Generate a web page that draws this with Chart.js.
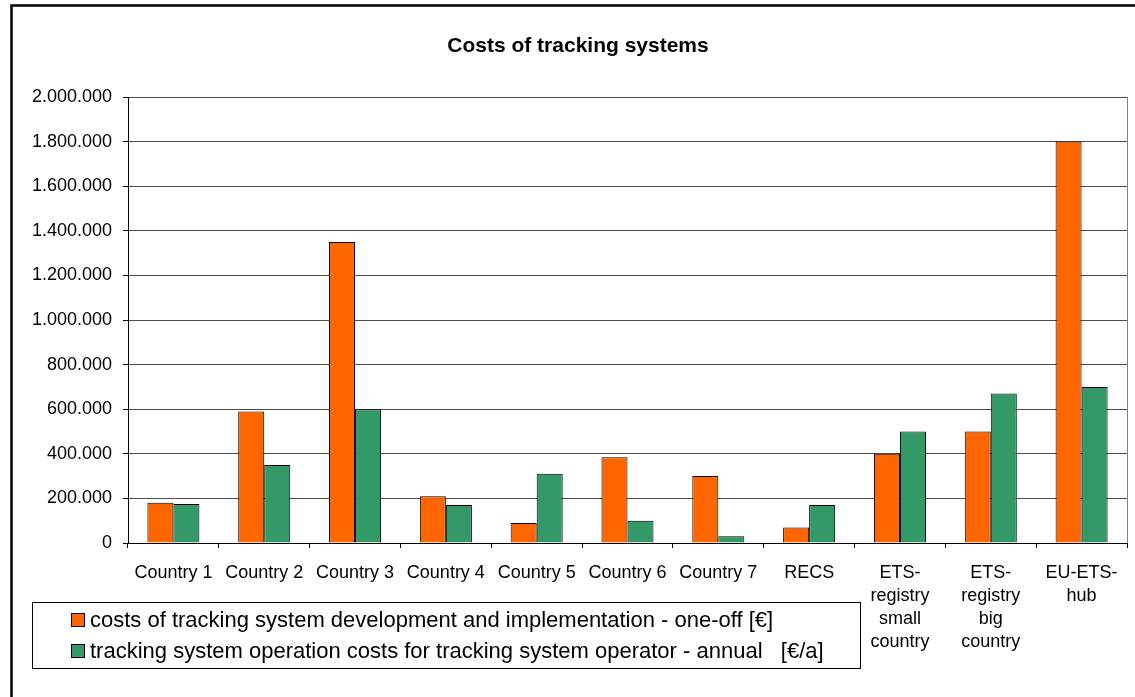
<!DOCTYPE html>
<html>
<head>
<meta charset="utf-8">
<script src="https://cdn.jsdelivr.net/npm/chart.js@4.4.1/dist/chart.umd.min.js"></script>
<style>
  html, body { margin: 0; padding: 0; background: #fff; }
  #wrap { width: 1135px; height: 697px; position: relative; }
  canvas { display: block; }
</style>
</head>
<body>
<div id="wrap"><canvas id="c" width="1135" height="697"></canvas></div>
<script>
const chartTitle = 'Costs of tracking systems';
const categories = [
  'Country 1', 'Country 2', 'Country 3', 'Country 4', 'Country 5',
  'Country 6', 'Country 7', 'RECS',
  ['ETS-', 'registry', 'small', 'country'],
  ['ETS-', 'registry', 'big', 'country'],
  ['EU-ETS-', 'hub']
];
const seriesLabels = [
  'costs of tracking system development and implementation - one-off [€]',
  'tracking system operation costs for tracking system operator - annual   [€/a]'
];
const developmentCosts = [180000, 590000, 1350000, 210000, 90000, 385000, 300000, 70000, 400000, 500000, 1800000];
const operationCosts   = [175000, 350000, 600000, 170000, 310000, 100000, 30000, 170000, 500000, 670000, 700000];
const yMin = 0;
const yMax = 2000000;
const yStep = 200000;

const seriesColors = ['#FF6600', '#339966'];
const FONT = '"Liberation Sans", Arial, sans-serif';

function fmtThousands(v) {
  const s = Math.round(v).toString();
  return s.replace(/\B(?=(\d{3})+(?!\d))/g, '.');
}

const decorPlugin = {
  id: 'decor',
  beforeDraw(chart) {
    const ctx = chart.ctx;
    ctx.save();
    ctx.fillStyle = '#fff';
    ctx.fillRect(0, 0, chart.width, chart.height);
    ctx.restore();
  },
  afterDraw(chart) {
    const ctx = chart.ctx;
    ctx.save();
    // outer frame
    ctx.strokeStyle = '#000';
    ctx.lineWidth = 2.5;
    ctx.strokeRect(11.5, 5.5, chart.width + 20, chart.height + 20);
    // title
    ctx.fillStyle = '#000';
    ctx.font = 'bold 21px ' + FONT;
    ctx.textAlign = 'center';
    ctx.textBaseline = 'middle';
    ctx.fillText(chartTitle, 578, 46);
    // legend
    ctx.lineWidth = 1;
    ctx.strokeRect(32.5, 602.5, 828, 66);
    ctx.font = '22px ' + FONT;
    ctx.textAlign = 'left';
    const rows = [620, 651];
    chart.data.datasets.forEach((ds, i) => {
      const y = rows[i];
      ctx.fillStyle = ds.backgroundColor;
      ctx.fillRect(71, y - 6.5, 13, 13);
      ctx.strokeStyle = '#000';
      ctx.strokeRect(71.5, y - 6.5, 13, 13);
      ctx.fillStyle = '#000';
      ctx.fillText(ds.label, 90, y + 1);
    });
    ctx.restore();
  }
};

new Chart(document.getElementById('c'), {
  type: 'bar',
  data: {
    labels: categories,
    datasets: [
      { label: seriesLabels[0], data: developmentCosts, backgroundColor: seriesColors[0], borderColor: '#000', borderWidth: 1 },
      { label: seriesLabels[1], data: operationCosts, backgroundColor: seriesColors[1], borderColor: '#000', borderWidth: 1 }
    ]
  },
  options: {
    responsive: false,
    animation: false,
    devicePixelRatio: 1,
    layout: { padding: { top: 97, right: 8, bottom: 0, left: 0 } },
    datasets: { bar: { categoryPercentage: 0.573, barPercentage: 1.0 } },
    plugins: {
      legend: { display: false },
      title: { display: false },
      tooltip: { enabled: false }
    },
    scales: {
      x: {
        offset: true,
        grid: {
          offset: true,
          drawOnChartArea: true,
          color: (c) => c.type === 'tick' ? 'rgba(0,0,0,0)' : '#808080',
          tickColor: '#000',
          tickLength: 5,
          lineWidth: 1
        },
        border: { color: '#000', width: 1 },
        ticks: {
          color: '#000',
          font: { family: FONT, size: 18, lineHeight: 1.29 },
          padding: 13,
          maxRotation: 0,
          minRotation: 0,
          autoSkip: false
        },
        afterFit: (s) => { s.height = 154; }
      },
      y: {
        min: yMin,
        max: yMax,
        grid: { color: '#4d4d4d', tickColor: '#000', tickLength: 5, lineWidth: 1 },
        border: { color: '#000', width: 1 },
        ticks: {
          stepSize: yStep,
          color: '#000',
          font: { family: FONT, size: 18 },
          padding: 11,
          callback: (v) => fmtThousands(v)
        },
        afterFit: (s) => { s.width = 128; }
      }
    }
  },
  plugins: [decorPlugin]
});
</script>
</body>
</html>
